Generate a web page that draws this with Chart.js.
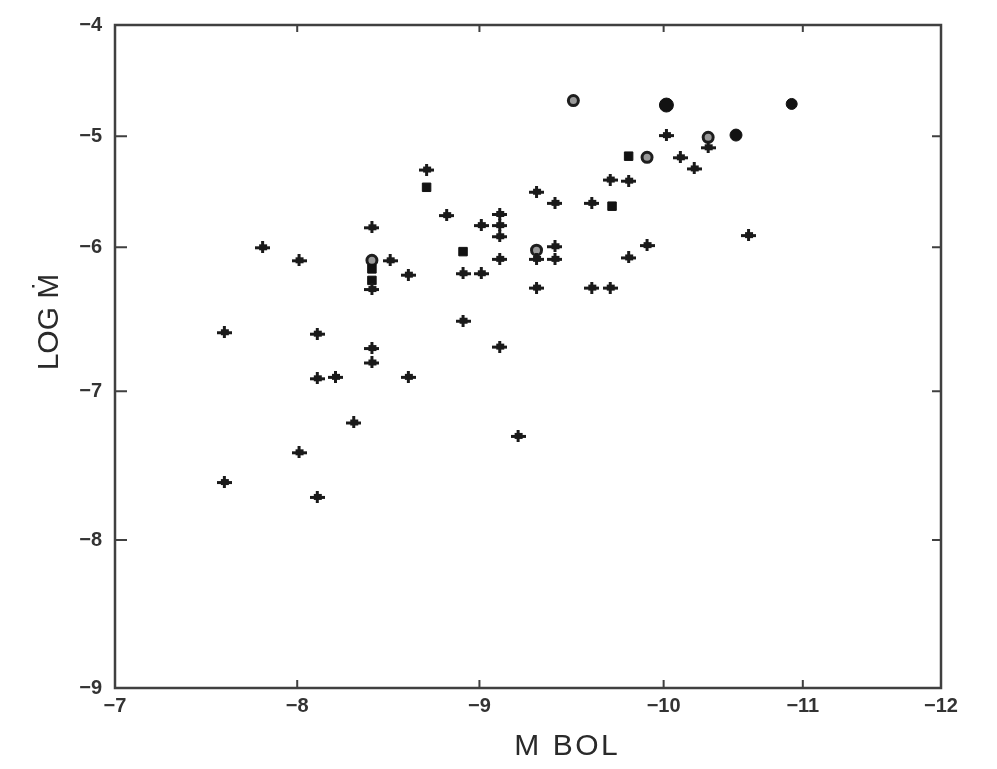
<!DOCTYPE html>
<html>
<head>
<meta charset="utf-8">
<script src="https://cdn.jsdelivr.net/npm/chart.js@4"></script>
<style>
  html, body { margin: 0; padding: 0; background: #ffffff; }
  #wrap { width: 997px; height: 769px; position: relative; }
</style>
</head>
<body>
<div id="wrap"><canvas id="c" width="997" height="769"></canvas></div>
<script>
// ---------------- DATA ----------------
const xTickValues = [-7, -8, -9, -10, -11, -12];
const yTickValues = [-9, -8, -7, -6, -5, -4];
const xTitle = 'M BOL';
const yTitle = 'LOG Ṁ';

// "+" symbols
const crossMbol = [-8.71, -9.31, -8.82, -9.01, -9.11, -9.11, -9.11, -8.41, -7.81, -8.01,
                   -8.51, -8.41, -8.61, -8.91, -9.01, -9.11, -9.31, -9.31, -8.91, -9.11,
                   -7.60, -8.11, -8.41, -8.41, -8.11, -8.21, -8.61, -8.31, -9.21, -8.01,
                   -7.60, -8.11, -10.02, -10.32, -10.12, -10.22, -9.71, -9.81, -9.41, -9.61,
                   -9.41, -9.41, -9.81, -9.91, -10.61, -9.61, -9.71];
const crossLogMdot = [-5.30, -5.50, -5.71, -5.80, -5.70, -5.80, -5.90, -5.82, -6.00, -6.09,
                      -6.09, -6.29, -6.19, -6.18, -6.18, -6.08, -6.08, -6.28, -6.51, -6.69,
                      -6.59, -6.60, -6.70, -6.80, -6.91, -6.90, -6.90, -7.21, -7.30, -7.41,
                      -7.61, -7.71, -4.99, -5.10, -5.19, -5.29, -5.39, -5.40, -5.60, -5.60,
                      -5.99, -6.08, -6.07, -5.98, -5.89, -6.28, -6.28];
// filled squares
const squareMbol = [-8.71, -8.41, -8.41, -8.91, -9.81, -9.72];
const squareLogMdot = [-5.46, -6.15, -6.23, -6.03, -5.18, -5.63];
// filled circles
const dotMbol = [-10.02, -10.92, -10.52];
const dotLogMdot = [-4.72, -4.71, -4.99];
// open circles
const ringMbol = [-9.51, -10.32, -9.91, -8.41, -9.31];
const ringLogMdot = [-4.68, -5.01, -5.19, -6.09, -6.02];

// ---------------- AXIS LAYOUT (fraction of axis length per tick, as in the scan) ----------------
const AXIS_STOPS = {
  x: { values: [-7, -8, -9, -10, -11, -12], fr: [0, 0.2206, 0.4412, 0.6642, 0.8327, 1] },
  y: { values: [-9, -8, -7, -6, -5, -4],    fr: [0, 0.2231, 0.4476, 0.6647, 0.8323, 1] }
};

class ScanLinearScale extends Chart.LinearScale {
  _stops() { return AXIS_STOPS[this.id]; }
  _toFrac(v) {
    const s = this._stops(), vals = s.values, fr = s.fr;
    let i = 0;
    for (i = 0; i < vals.length - 2; i++) {
      const a = vals[i], b = vals[i + 1];
      if ((v - a) * (v - b) <= 0) break;
    }
    const a = vals[i], b = vals[i + 1];
    return fr[i] + (v - a) / (b - a) * (fr[i + 1] - fr[i]);
  }
  _fromFrac(f) {
    const s = this._stops(), vals = s.values, fr = s.fr;
    let i = 0;
    for (i = 0; i < fr.length - 2; i++) { if (f <= fr[i + 1]) break; }
    return vals[i] + (f - fr[i]) / (fr[i + 1] - fr[i]) * (vals[i + 1] - vals[i]);
  }
  getPixelForValue(value) {
    if (value === null || isNaN(value)) return NaN;
    return this.getPixelForDecimal(this._toFrac(value));
  }
  getValueForPixel(pixel) {
    return this._fromFrac(this.getDecimalForPixel(pixel));
  }
}
ScanLinearScale.id = 'scanLinear';
ScanLinearScale.defaults = Chart.LinearScale.defaults;
Chart.register(ScanLinearScale);

// ---------------- MARKERS ----------------
function makePlus(w, h, t, color) {
  const c = document.createElement('canvas');
  c.width = w; c.height = h;
  const g = c.getContext('2d');
  g.fillStyle = color;
  g.fillRect(0, Math.round((h - t) / 2), w, t);
  g.fillRect(Math.round((w - t) / 2), 0, t, h);
  g.fillRect(Math.round(w / 2) - 4, Math.round(h / 2) - 3, 8, 6);
  return c;
}
const plusImg = makePlus(15, 12, 3, '#1a1a1a');

const toPts = (xs, ys) => xs.map((x, i) => ({ x: x, y: ys[i] }));

// ---------------- FRAME / TITLE PLUGIN ----------------
const framePlugin = {
  id: 'frame',
  afterDraw(chart) {
    const ctx = chart.ctx;
    const { left, right, top, bottom } = chart.chartArea;
    const xs = chart.scales.x, ys = chart.scales.y;
    ctx.save();
    ctx.strokeStyle = '#404040';
    ctx.lineWidth = 2.5;
    ctx.strokeRect(left, top, right - left, bottom - top);
    ctx.lineWidth = 2;
    ctx.beginPath();
    xTickValues.forEach(v => {
      const px = xs.getPixelForValue(v);
      if (px > left + 2 && px < right - 2) {
        ctx.moveTo(px, bottom); ctx.lineTo(px, bottom - 8);
        ctx.moveTo(px, top); ctx.lineTo(px, top + 7);
      }
    });
    yTickValues.forEach(v => {
      const py = ys.getPixelForValue(v);
      if (py > top + 2 && py < bottom - 2) {
        ctx.moveTo(left, py); ctx.lineTo(left + 12, py);
        ctx.moveTo(right, py); ctx.lineTo(right - 9, py);
      }
    });
    ctx.stroke();

    ctx.fillStyle = '#2a2a2a';
    ctx.font = '30px "Liberation Sans", Arial, sans-serif';
    ctx.textAlign = 'center';
    ctx.textBaseline = 'middle';
    ctx.fillText(xTitle.split('').join(String.fromCharCode(8202)), 566, 747);
    ctx.translate(50, 322);
    ctx.rotate(-Math.PI / 2);
    ctx.fillText(yTitle, 0, 0);
    ctx.restore();
  }
};

const tickFont = { family: '"Liberation Sans", Arial, sans-serif', size: 20, weight: 'bold' };
const fmt = v => (v < 0 ? '\u2212' + Math.abs(v) : String(v));

// ---------------- CHART ----------------
new Chart(document.getElementById('c'), {
  type: 'scatter',
  data: {
    datasets: [
      { label: 'plus', data: toPts(crossMbol, crossLogMdot), pointStyle: plusImg, pointRadius: 6 },
      { label: 'square', data: toPts(squareMbol, squareLogMdot), pointStyle: 'rect', pointRadius: 6,
        backgroundColor: '#121212', borderColor: '#121212', borderWidth: 1 },
      { label: 'dot', data: toPts(dotMbol, dotLogMdot), pointStyle: 'circle', pointRadius: [7, 5.5, 6],
        backgroundColor: '#121212', borderColor: '#121212', borderWidth: 1 },
      { label: 'ring', data: toPts(ringMbol, ringLogMdot), pointStyle: 'circle', pointRadius: 5,
        backgroundColor: '#9a9a9a', borderColor: '#1e1e1e', borderWidth: 3 }
    ]
  },
  options: {
    responsive: false,
    animation: false,
    devicePixelRatio: 1,
    layout: { padding: { top: 20, right: 56, bottom: 0, left: 0 } },
    plugins: { legend: { display: false }, tooltip: { enabled: false } },
    scales: {
      x: {
        type: 'scanLinear',
        min: -12, max: -7,
        afterBuildTicks: s => { s.ticks = xTickValues.map(v => ({ value: v })); },
        afterFit: s => { s.height = 81; },
        grid: { display: false, drawTicks: false },
        border: { display: false },
        ticks: { padding: 6, color: '#333333', autoSkip: false, maxRotation: 0,
                 font: tickFont, callback: fmt }
      },
      y: {
        type: 'scanLinear',
        min: -9, max: -4,
        afterBuildTicks: s => { s.ticks = yTickValues.map(v => ({ value: v })); },
        afterFit: s => { s.width = 115; },
        grid: { display: false, drawTicks: false },
        border: { display: false },
        ticks: { padding: 13, color: '#333333', autoSkip: false,
                 font: tickFont, callback: fmt }
      }
    }
  },
  plugins: [framePlugin]
});
</script>
</body>
</html>
